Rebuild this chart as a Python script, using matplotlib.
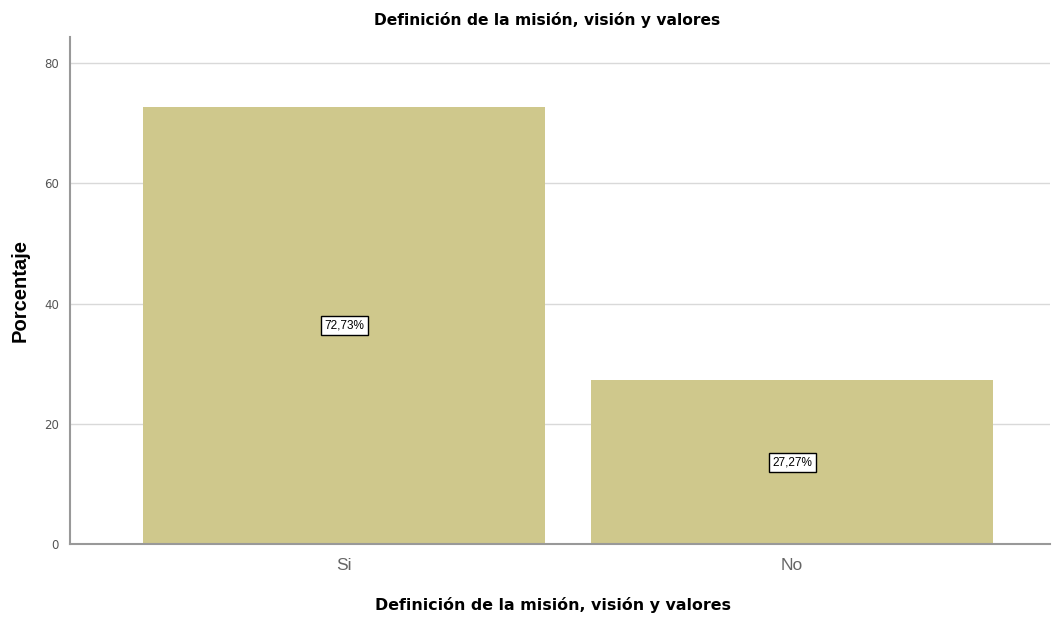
import matplotlib.pyplot as plt

categorias = ['Si', 'No']
porcentajes = [72.73, 27.27]
etiquetas = ['72,73%', '27,27%']

fig = plt.figure(figsize=(10.54, 6.19), dpi=100)
ax = fig.add_axes([0.0664, 0.121, 0.93, 0.819])

x = range(len(categorias))
ax.bar(x, porcentajes, width=0.897, color='#cfc88c', zorder=2)

# etiquetas dentro de las barras
for i, v in enumerate(porcentajes):
    ax.text(i, v / 2, etiquetas[i], ha='center', va='center', fontsize=8.5,
            family='Liberation Sans', color='black', zorder=3,
            bbox=dict(boxstyle='square,pad=0.3', fc='white', ec='black', lw=1))

ax.set_xlim(-0.612, 1.576)
ax.set_ylim(0, 84.3)
ax.set_yticks([0, 20, 40, 60, 80])
ax.set_xticks(list(x))
ax.set_xticklabels(categorias, fontsize=12.5, color='#666666', family='Liberation Sans')
ax.tick_params(axis='y', labelsize=8.5, colors='#555555', length=0, pad=8)
ax.tick_params(axis='x', length=0, pad=10)
ax.grid(axis='y', color='#d9d9d9', lw=1, zorder=0)

for s in ['top', 'right']:
    ax.spines[s].set_visible(False)
for s in ['left', 'bottom']:
    ax.spines[s].set_color('#999999')
    ax.spines[s].set_linewidth(1.5)

fig.text(547.5 / 1054, 1 - 20 / 619, 'Definición de la misión, visión y valores',
         ha='center', va='center', fontsize=11.2, fontweight='bold')
fig.text(553 / 1054, 1 - 605 / 619, 'Definición de la misión, visión y valores',
         ha='center', va='center', fontsize=11.4, fontweight='bold')
fig.text(20 / 1054, 1 - 290 / 619, 'Porcentaje', rotation=90, ha='center',
         va='center', fontsize=14.5, fontweight='bold', family='Liberation Sans')

plt.savefig('out.png')
plt.close()
